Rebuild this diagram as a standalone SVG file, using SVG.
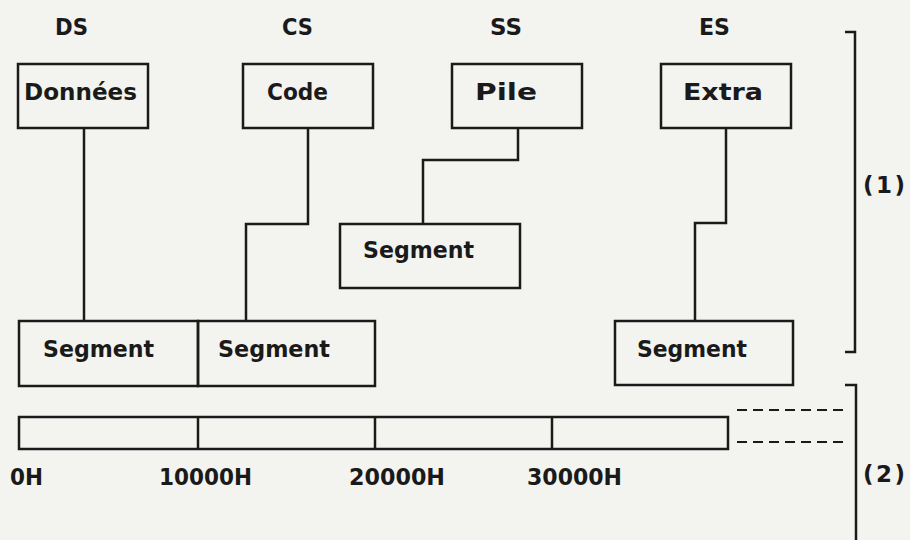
<svg xmlns="http://www.w3.org/2000/svg" width="910" height="540" viewBox="0 0 910 540">
<style>
.bg{fill:#f3f3f0}
.box{fill:none;stroke:#1a1a1a;stroke-width:2.5}
.ln{fill:none;stroke:#1a1a1a;stroke-width:2.5}
.dash{fill:none;stroke:#1a1a1a;stroke-width:2;stroke-dasharray:10 6}
text{font-family:"DejaVu Sans","Liberation Sans",sans-serif;font-weight:bold;font-size:23px;fill:#1a1a1a}
</style>
<rect class="bg" x="0" y="0" width="910" height="540"/>
<g id="labels">
<text x="55" y="35" textLength="33" lengthAdjust="spacingAndGlyphs">DS</text>
<text x="282" y="35" textLength="31" lengthAdjust="spacingAndGlyphs">CS</text>
<text x="490" y="35" textLength="32" lengthAdjust="spacingAndGlyphs">SS</text>
<text x="699" y="35" textLength="31" lengthAdjust="spacingAndGlyphs">ES</text>
</g>
<g id="donnees">
<rect class="box" x="18" y="64" width="130" height="64"/>
<text x="24" y="100" textLength="113" lengthAdjust="spacingAndGlyphs">Données</text>
</g>
<g id="code">
<rect class="box" x="243" y="64" width="130" height="64"/>
<text x="267" y="100" textLength="61" lengthAdjust="spacingAndGlyphs">Code</text>
</g>
<g id="pile">
<rect class="box" x="452" y="64" width="130" height="64"/>
<text x="475" y="100" textLength="62" lengthAdjust="spacingAndGlyphs">Pile</text>
</g>
<g id="extra">
<rect class="box" x="661" y="64" width="130" height="64"/>
<text x="683" y="100" textLength="80" lengthAdjust="spacingAndGlyphs">Extra</text>
</g>
<g id="segment-ss">
<rect class="box" x="340" y="224" width="180" height="64"/>
<text x="363" y="258" textLength="111" lengthAdjust="spacingAndGlyphs">Segment</text>
</g>
<g id="segment-ds">
<rect class="box" x="19" y="321" width="179" height="65"/>
<text x="43" y="357" textLength="111" lengthAdjust="spacingAndGlyphs">Segment</text>
</g>
<g id="segment-cs">
<rect class="box" x="198" y="321" width="177" height="65"/>
<text x="218" y="357" textLength="112" lengthAdjust="spacingAndGlyphs">Segment</text>
</g>
<g id="segment-es">
<rect class="box" x="615" y="321" width="178" height="64"/>
<text x="637" y="357" textLength="110" lengthAdjust="spacingAndGlyphs">Segment</text>
</g>
<g id="connectors">
<polyline class="ln" points="84,128 84,321"/>
<polyline class="ln" points="308,128 308,224 246,224 246,321"/>
<polyline class="ln" points="518,128 518,160 423,160 423,224"/>
<polyline class="ln" points="726,128 726,223 695,223 695,321"/>
</g>
<g id="memory">
<rect class="box" x="19" y="417" width="709" height="32"/>
<line class="ln" x1="198" y1="417" x2="198" y2="449"/>
<line class="ln" x1="375" y1="417" x2="375" y2="449"/>
<line class="ln" x1="552" y1="417" x2="552" y2="449"/>
<line class="dash" x1="737" y1="410" x2="843" y2="410"/>
<line class="dash" x1="737" y1="442" x2="843" y2="442"/>
<text x="10" y="485" textLength="33" lengthAdjust="spacingAndGlyphs">0H</text>
<text x="159" y="485" textLength="93" lengthAdjust="spacingAndGlyphs">10000H</text>
<text x="349" y="485" textLength="96" lengthAdjust="spacingAndGlyphs">20000H</text>
<text x="527" y="485" textLength="95" lengthAdjust="spacingAndGlyphs">30000H</text>
</g>
<g id="bracket1">
<polyline class="ln" points="845,32 855,32 855,352 845,352"/>
<text x="863" y="193" textLength="42" lengthAdjust="spacing">(1)</text>
</g>
<g id="bracket2">
<polyline class="ln" points="845,385 856,385 856,540"/>
<text x="863" y="482" textLength="42" lengthAdjust="spacing">(2)</text>
</g>
</svg>
